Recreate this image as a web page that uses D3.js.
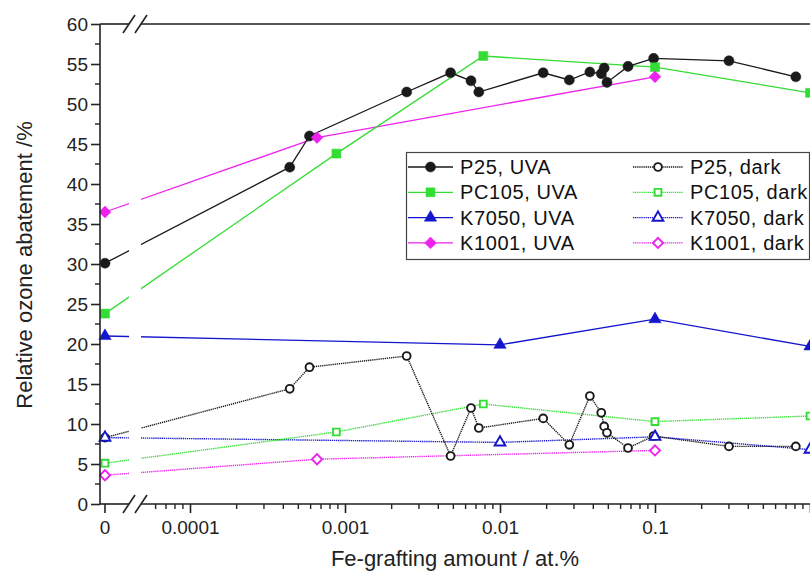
<!DOCTYPE html>
<html>
<head>
<meta charset="utf-8">
<script src="https://cdnjs.cloudflare.com/ajax/libs/d3/7.8.5/d3.min.js"></script>
<style>
body { margin: 0; background: #fff; }
svg { display: block; font-family: "Liberation Sans", Arial, sans-serif; }
</style>
</head>
<body>
<div id="chart"></div>
<script>
// x = Fe-grafting amount (at.%), 0 is drawn left of the axis break
const p25X     = [0, 0.00044, 0.00059, 0.0025, 0.0048, 0.0065, 0.0073, 0.019, 0.028, 0.038, 0.045, 0.047, 0.049, 0.067, 0.098, 0.3, 0.81];
const p25Uva   = [30.1, 42.1, 46.0, 51.5, 53.9, 52.9, 51.5, 53.9, 53.0, 54.0, 53.8, 54.5, 52.7, 54.7, 55.7, 55.4, 53.4];
const p25Dark  = [8.3, 14.4, 17.1, 18.5, 6.0, 12.0, 9.5, 10.7, 7.4, 13.5, 11.4, 9.7, 8.9, 7.0, 8.5, 7.2, 7.2];

const pc105X    = [0, 0.00088, 0.0078, 0.1, 1];
const pc105Uva  = [23.8, 43.8, 56.0, 54.6, 51.4];
const pc105Dark = [5.1, 9.0, 12.5, 10.3, 11.0];

const k7050X    = [0, 0.01, 0.1, 1];
const k7050Uva  = [21.0, 19.9, 23.1, 19.7];
const k7050Dark = [8.3, 7.7, 8.4, 6.8];

const k1001X    = [0, 0.00066, 0.1];
const k1001Uva  = [36.5, 45.8, 53.4];
const k1001Dark = [3.6, 5.6, 6.7];

// the tick at 1 sits on the picture's right edge, its label is cut away
const xMajor = [0.0001, 0.001, 0.01, 0.1, 1];
const xLabels = ['0.0001', '0.001', '0.01', '0.1', ''];
const yTicks = d3.range(0, 61, 5);

const width = 810, height = 572;
const zeroX = 105, breakL = 129, breakR = 141, plotL = 100, plotR = 812;

const x = d3.scaleLog().domain([1e-4, 1]).range([190, 810]);
const y = d3.scaleLinear().domain([0, 60]).range([504, 24]);
const xPos = v => v === 0 ? zeroX : x(v);

const svg = d3.select('#chart').append('svg')
  .attr('width', width)
  .attr('height', height);

const series = [
  {name: 'P25, UVA',    xs: p25X,   ys: p25Uva,    color: '#1a1a1a', sym: d3.symbolCircle,   open: false},
  {name: 'PC105, UVA',  xs: pc105X, ys: pc105Uva,  color: '#33dd33', sym: d3.symbolSquare,   open: false},
  {name: 'K7050, UVA',  xs: k7050X, ys: k7050Uva,  color: '#1515cc', sym: d3.symbolTriangle, open: false},
  {name: 'K1001, UVA',  xs: k1001X, ys: k1001Uva,  color: '#ee22ee', sym: 'diamond',         open: false},
  {name: 'P25, dark',   xs: p25X,   ys: p25Dark,   color: '#1a1a1a', sym: d3.symbolCircle,   open: true},
  {name: 'PC105, dark', xs: pc105X, ys: pc105Dark, color: '#33dd33', sym: d3.symbolSquare,   open: true},
  {name: 'K7050, dark', xs: k7050X, ys: k7050Dark, color: '#1515cc', sym: d3.symbolTriangle, open: true},
  {name: 'K1001, dark', xs: k1001X, ys: k1001Dark, color: '#ee22ee', sym: 'diamond',         open: true}
];

const markerPath = s => {
  if (s.sym === 'diamond') return d3.symbol(d3.symbolSquare, s.open ? 52 : 70)();
  if (s.sym === d3.symbolCircle) return d3.symbol(s.sym, s.open ? 48 : 80)();
  if (s.sym === d3.symbolSquare) return d3.symbol(s.sym, s.open ? 46 : 80)();
  return d3.symbol(s.sym, s.open ? 50 : 66)();
};
const markerRot = s => s.sym === 'diamond' ? ' rotate(45)' : '';

const line = d3.line().x(d => xPos(d[0])).y(d => y(d[1]));

// lines: dark (dotted) first, then UVA
const lineG = svg.append('g');
[...series].reverse().forEach(s => {
  const pts = s.xs.map((v, i) => [v, s.ys[i]]);
  lineG.append('path')
    .attr('d', line(pts))
    .attr('fill', 'none')
    .attr('stroke', s.color)
    .attr('stroke-width', s.open ? 1.4 : 1.3)
    .attr('stroke-dasharray', s.open ? '1.3,0.8' : null);
});

// gap where the axis is broken
svg.append('rect')
  .attr('x', breakL).attr('y', 0)
  .attr('width', breakR - breakL).attr('height', 520)
  .attr('fill', '#fff');

// markers
series.forEach(s => {
  svg.append('g').selectAll('path')
    .data(s.xs.map((v, i) => [v, s.ys[i]]))
    .join('path')
    .attr('d', markerPath(s))
    .attr('transform', d => `translate(${xPos(d[0])},${y(d[1])})${markerRot(s)}`)
    .attr('fill', s.open ? '#fff' : s.color)
    .attr('stroke', s.color)
    .attr('stroke-width', s.open ? 1.9 : 0.5);
});

// axes
const axisColor = '#222';
const ax = svg.append('g').attr('stroke', axisColor).attr('stroke-width', 1.6).attr('fill', 'none');
[24, 504].forEach(yy => {
  ax.append('line').attr('x1', plotL).attr('x2', breakL).attr('y1', yy).attr('y2', yy);
  ax.append('line').attr('x1', breakR).attr('x2', plotR).attr('y1', yy).attr('y2', yy);
  [breakL, breakR].forEach(bx => {
    ax.append('line').attr('x1', bx - 6).attr('y1', yy + 9).attr('x2', bx + 6).attr('y2', yy - 9);
  });
});
ax.append('line').attr('x1', plotL).attr('x2', plotL).attr('y1', 24).attr('y2', 504);

// y axis
const yAxis = d3.axisLeft(y).tickValues(yTicks).tickSize(9).tickSizeOuter(0).tickPadding(3);
const yg = svg.append('g').attr('transform', `translate(${plotL},0)`).call(yAxis);
yg.select('.domain').remove();
yg.selectAll('.tick line').attr('stroke', axisColor).attr('stroke-width', 1.6);
yg.selectAll('.tick text').attr('font-size', 19).attr('fill', '#222')
  .attr('font-family', '"Liberation Sans", Arial, sans-serif');
svg.append('g').selectAll('line')
  .data(d3.range(2.5, 60, 5))
  .join('line')
  .attr('x1', plotL - 5).attr('x2', plotL)
  .attr('y1', d => y(d)).attr('y2', d => y(d))
  .attr('stroke', axisColor).attr('stroke-width', 1.4);

// x axis (log part)
const xMinor = [];
[1e-5, 1e-4, 1e-3, 1e-2, 1e-1].forEach(dec => {
  d3.range(2, 10).forEach(k => {
    const v = k * dec;
    if (v >= 6e-5 && v < 1) xMinor.push(v);
  });
});
const xAxis = d3.axisBottom(x).tickValues(xMajor)
  .tickFormat((d, i) => xLabels[i]).tickSize(9).tickSizeOuter(0).tickPadding(8);
const xg = svg.append('g').attr('transform', 'translate(0,504)').call(xAxis);
xg.select('.domain').remove();
xg.selectAll('.tick line').attr('stroke', axisColor).attr('stroke-width', 1.6);
xg.selectAll('.tick text').attr('font-size', 19).attr('fill', '#222')
  .attr('font-family', '"Liberation Sans", Arial, sans-serif');
svg.append('g').selectAll('line')
  .data(xMinor)
  .join('line')
  .attr('x1', d => x(d)).attr('x2', d => x(d))
  .attr('y1', 504).attr('y2', 509)
  .attr('stroke', axisColor).attr('stroke-width', 1.4);

// the zero position left of the break
svg.append('line')
  .attr('x1', zeroX).attr('x2', zeroX).attr('y1', 504).attr('y2', 513)
  .attr('stroke', axisColor).attr('stroke-width', 1.6);
svg.append('text')
  .attr('x', zeroX).attr('y', 534)
  .attr('text-anchor', 'middle')
  .attr('font-size', 19).attr('fill', '#222')
  .text('0');

// axis titles
svg.append('text')
  .attr('x', 455).attr('y', 566)
  .attr('text-anchor', 'middle')
  .attr('font-size', 22).attr('fill', '#222')
  .text('Fe-grafting amount / at.%');
svg.append('text')
  .attr('transform', 'translate(32,265) rotate(-90)')
  .attr('text-anchor', 'middle')
  .attr('font-size', 22).attr('fill', '#222')
  .text('Relative ozone abatement /%');

// legend
const leg = svg.append('g');
leg.append('rect')
  .attr('x', 406.5).attr('y', 152.5)
  .attr('width', 403).attr('height', 107)
  .attr('fill', '#fff').attr('stroke', '#444').attr('stroke-width', 1.2);
series.forEach((s, i) => {
  const col = s.open ? 1 : 0;
  const row = i % 4;
  const lx = col ? 633 : 408;
  const lw = col ? 50 : 45;
  const ly = 167 + row * 25.3;
  const g = leg.append('g');
  g.append('line')
    .attr('x1', lx).attr('x2', lx + lw).attr('y1', ly).attr('y2', ly)
    .attr('stroke', s.color).attr('stroke-width', 1.3)
    .attr('stroke-dasharray', s.open ? '1.3,0.8' : null);
  g.append('path')
    .attr('d', markerPath(s))
    .attr('transform', `translate(${lx + lw / 2},${ly})${markerRot(s)}`)
    .attr('fill', s.open ? '#fff' : s.color)
    .attr('stroke', s.color)
    .attr('stroke-width', s.open ? 1.9 : 0.5);
  g.append('text')
    .attr('x', lx + lw + 7).attr('y', ly + 7)
    .attr('font-size', 20).attr('fill', '#111')
    .attr('letter-spacing', 0.6)
    .text(s.name);
});
</script>
</body>
</html>
